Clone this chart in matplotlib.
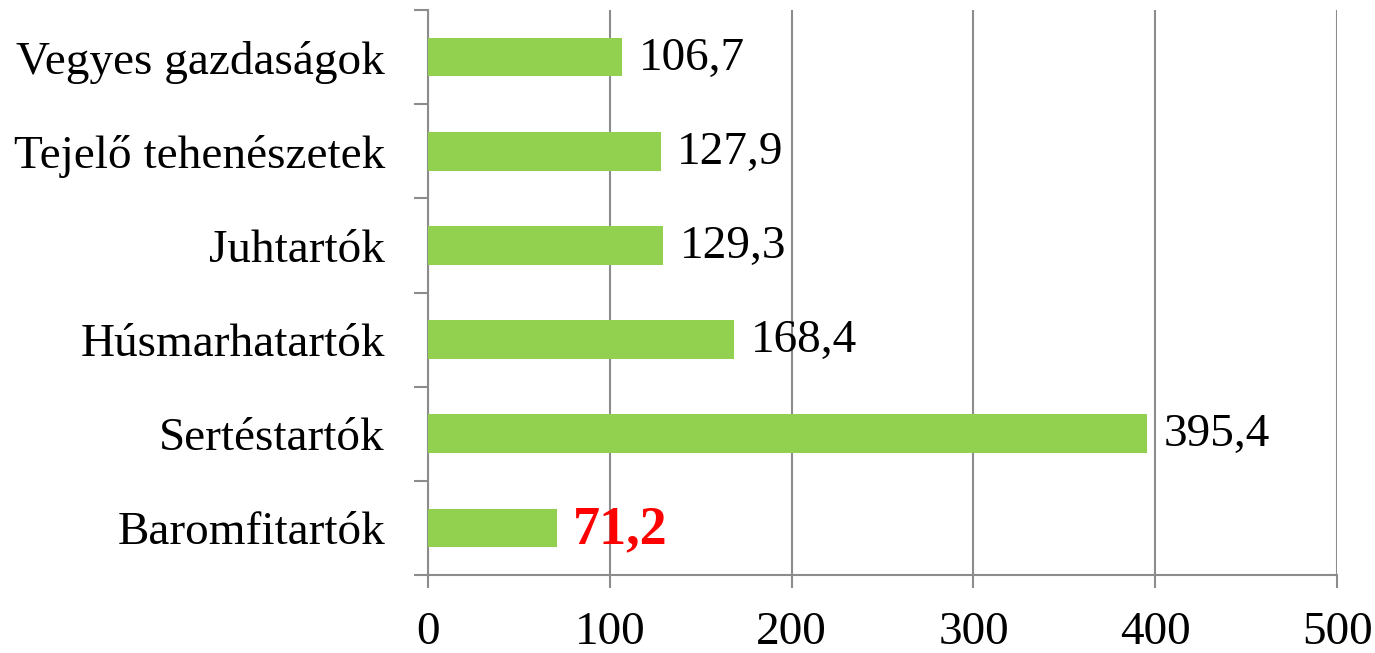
import matplotlib.pyplot as plt

# data (bottom to top)
categories = ['Baromfitartók', 'Sertéstartók', 'Húsmarhatartók',
              'Juhtartók', 'Tejelő tehenészetek', 'Vegyes gazdaságok']
values = [71.2, 395.4, 168.4, 129.3, 127.9, 106.7]
value_labels = ['71,2', '395,4', '168,4', '129,3', '127,9', '106,7']
x_ticks = [0, 100, 200, 300, 400, 500]

plt.rcParams['font.family'] = ['Liberation Serif', 'DejaVu Serif']

grey = '#8c8c8c'
fig = plt.figure(figsize=(13.75, 6.53), dpi=100)
ax = fig.add_axes([0.3113, 0.1194, 0.6611, 0.8653])

ypos = list(range(len(categories)))
ax.barh(ypos, values, height=0.41, color='#92D050', zorder=3)

for y, v, lab in zip(ypos, values, value_labels):
    if lab == '71,2':
        # highlighted value
        ax.annotate(lab, (v, y), xytext=(11, -2), textcoords='offset points',
                    va='center', ha='left', fontsize=39, color='red',
                    fontweight='bold')
    else:
        ax.annotate(lab, (v, y), xytext=(12, -1), textcoords='offset points',
                    va='center', ha='left', fontsize=34, color='black')

ax.set_xlim(0, 500)
ax.set_ylim(-0.5, len(categories) - 0.5)
ax.set_xticks(x_ticks)
ax.set_xticklabels([str(t) for t in x_ticks], fontsize=34)
ax.set_yticks(ypos)
ax.set_yticklabels(categories, fontsize=34)
ax.set_yticks([i - 0.5 for i in range(len(categories) + 1)], minor=True)

ax.tick_params(axis='y', which='major', length=0, pad=31)
ax.tick_params(axis='y', which='minor', length=10, width=1.5, color=grey)
ax.tick_params(axis='x', which='major', length=9, width=1.5, color=grey, pad=17)

ax.grid(axis='x', color=grey, linewidth=1.5, zorder=0)
for s in ['top', 'right']:
    ax.spines[s].set_visible(False)
for s in ['left', 'bottom']:
    ax.spines[s].set_color(grey)
    ax.spines[s].set_linewidth(1.5)

fig.savefig('out.png', dpi=100)
